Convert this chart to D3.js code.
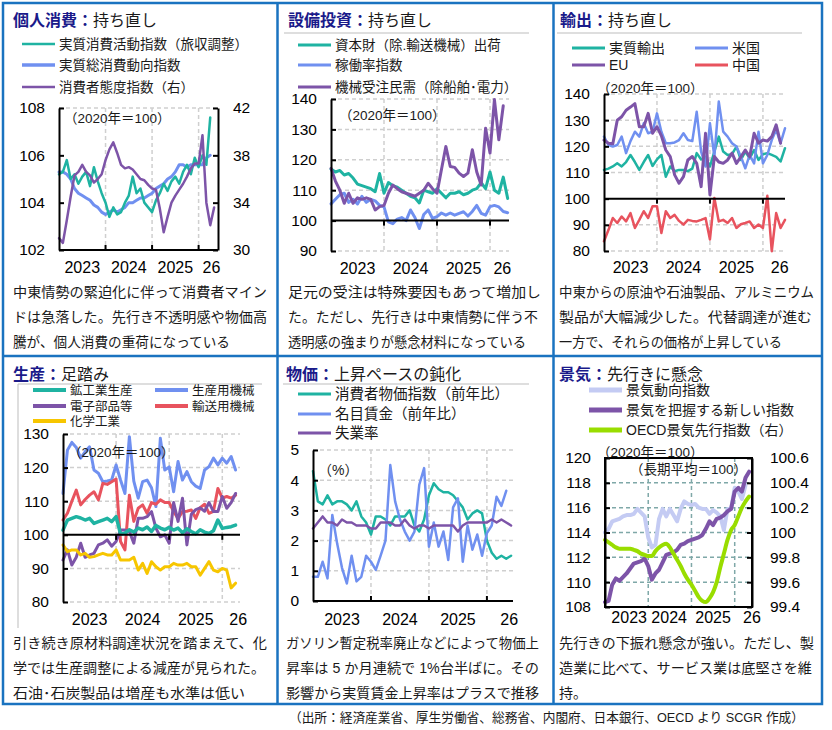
<!DOCTYPE html>
<html><head><meta charset="utf-8">
<script src="https://cdn.jsdelivr.net/npm/d3@7"></script>
<style>
body{margin:0;background:#fff}
svg{display:block}
text{font-family:"Liberation Sans","Noto Sans CJK JP",sans-serif}
</style>
</head><body>
<svg id="chart" width="832" height="730"></svg>
<script>
// ---- data (monthly, Jan 2023 = index 0) ----
const consTeal = [105.2,105.3,105.8,105.0,105.2,104.8,105.1,105.3,104.7,105.5,104.9,104.4,104.0,103.4,103.8,103.5,103.6,104.0,104.3,105.1,104.4,104.6,104.0,103.8,103.6,104.1,104.4,104.8,104.5,104.9,105.1,104.8,105.3,105.6,105.2,105.9,105.5,106.0,105.6,107.6];
const consBlue = [105.3,105.3,105.2,105.0,104.6,104.4,104.3,104.2,104.1,103.9,103.8,103.6,103.5,103.6,103.7,103.6,103.7,103.8,104.0,104.0,104.1,104.2,104.2,104.3,104.4,104.6,104.7,104.8,105.0,105.1,105.3,105.6,105.6,105.5,105.6,105.6,105.6,105.6,105.9,106.0];
const consMind = [31.0,30.6,32.5,34.5,36.3,36.6,37.2,36.6,36.3,35.7,36.0,36.4,37.6,38.5,39.1,38.2,37.2,36.9,37.0,36.8,36.4,36.0,35.9,35.5,35.2,35.1,33.5,31.5,32.8,34.0,34.6,35.1,35.6,36.2,36.9,37.3,37.3,39.7,34.0,32.1,33.6];

const capShip = [117,116,116.5,115,115.5,114,112,111.5,111,110.5,109.5,115.5,109,112.5,111.5,111,110,109,108,107.5,105.8,110,109.5,109,110.5,109,107.5,109,109,109.5,108.5,109,110,110.5,112.5,110.5,116,110,109,114.3,107.3];
const capUtil = [105.5,107,108.5,109,106,107,105.5,108,106,107,106.5,105,104.5,99.6,99,100.5,101,100,103.5,101,97.4,102,103.5,100.7,101.3,102.5,101.8,102.5,101.8,102.4,102.9,101.5,103,105,102.4,101.8,104.6,105,104.5,103,102.6];
const capOrders = [117.2,113,110,105.7,109,105.7,107.5,107,107.5,107,103.5,104.6,105,109,111.7,110.5,109.5,109,108.5,108,109,110,112.3,110.5,109,116.7,124.4,117.8,117.5,115.6,114.5,115.6,123.3,116,111.7,130.4,122.2,139.8,126.6,137.8];

const expTotal = [111,111.5,112.3,113.5,112.3,114,116.7,114,111,114,116.7,112.5,115,116.7,108.4,112.3,110.5,111,111,110.5,111.5,117.4,115,116,112.3,118,123.7,118,116.7,117,119.9,114.8,118,115.4,118.6,114.8,117,117.4,116.7,116,114.2,119.3];
const expUS = [123.7,120.5,119.9,120.5,123.7,117.4,122,125.6,123.7,128.8,125,125.6,132.6,125.6,121.2,121.2,121.5,122.4,125,122.4,122,133.2,118,112.3,128.8,116.1,137.1,125.6,123.7,121.2,119.9,116.1,111.6,116.7,113.5,125.6,113.5,116.7,122.4,126.3,121.2,126.9];
const expEU = [122.4,121.2,121,130,131.3,133.8,135,136.3,127.5,127.5,132.6,125,127.5,124,118.6,116.1,109.1,105.9,108.4,114.8,116.1,113.5,104.6,125,101.4,116.1,114,113.5,114.8,117.4,113.5,116,118.6,116,125,121.2,122.4,122,123.7,128.2,121.2];
const expChina = [83.7,88,92.6,90.7,93.2,91.3,94.5,88.8,91.9,95.2,92.6,97.1,97.1,86.9,95.2,92.6,93.8,91.5,90.1,91.9,91.5,91.3,91.9,92.6,84.4,100.3,91.3,91.9,90.7,92.6,88.8,90.2,90.7,91.3,88.8,90.1,88.8,101.1,79.9,94.5,88.8,91.9];

const prodTotal = [101.4,104.4,104.9,105.4,105,104.4,104.9,103.4,103.9,104.4,104.9,103.9,105.4,100.2,100.5,101.5,100.8,102,101.5,102.3,101,102.8,102,101.5,102.2,101.4,102,100.6,101.8,101,100.3,101.5,100.8,100.4,101.2,104.4,101.9,102.2,102.4,102.9];
const prodMach = [112.3,125.2,127.5,126,122.8,124.7,126.2,119.3,118.3,115.8,116,116.3,120.8,116.3,112.3,129.2,116,110.9,115.8,116.3,114,108.4,128.7,119.3,120.2,112.8,121.8,116.3,118.8,115.8,114.5,113.8,119.3,120.3,122.8,120.8,122.8,121.3,123.3,119.3];
const prodElec = [92.5,95.5,91,93.3,97.5,93.3,94,94.5,97,97.5,98.5,96.6,98,101.4,101.4,101,97.5,104.9,104.9,105.4,106.9,102,99.4,100,97.5,109.6,104,110.9,97,106.1,107.5,108,107,109.6,106.9,106.9,111.4,107.9,109.6,112.3];
const prodTrans = [104.4,106.4,110,113.3,108.9,110.5,111.8,112.8,110.4,115.3,115,115.8,116.6,98,95.5,111.8,104,107.9,108.9,106.4,109.6,109.1,110.4,109.6,109.6,106.9,104.9,106.9,107,107.4,104.9,108.1,109.1,106.4,107,113.8,110.9,111.4,110.9,111.8];
const prodChem = [97,95,95.5,95.5,94,94.5,93.3,93.5,94,94.5,94,94,95.5,92.5,92.5,92.5,93.3,89.5,91.5,88.5,92,90.5,89.5,90.5,90.5,91.5,91,91,91.5,90.5,90.5,88,90,92,89.5,89,90,89.5,84.2,85.6];

const cpi = [4.3,3.3,3.2,3.5,3.2,3.3,3.3,3.2,3.0,3.3,2.8,2.6,2.2,2.8,2.8,2.7,2.5,2.8,2.8,2.8,3.0,2.5,2.3,2.7,3.5,3.9,3.7,3.6,3.6,3.5,3.3,3.1,2.7,2.9,3.0,2.9,2.0,1.6,1.4,1.5,1.4,1.5];
const wages = [0.8,0.8,1.3,0.75,2.85,1.9,1.1,0.58,1.5,0.65,0.8,1.5,1.3,1.03,1.5,2.0,4.5,3.3,2.7,2.3,2.0,2.3,3.85,4.4,1.8,2.6,1.8,2.3,1.36,3.1,3.4,1.3,2.5,1.7,2.2,1.5,2.25,2.5,3.45,3.15,3.65];
const unemp = [2.4,2.6,2.8,2.6,2.6,2.5,2.7,2.6,2.6,2.5,2.5,2.5,2.4,2.4,2.6,2.6,2.6,2.5,2.5,2.7,2.5,2.4,2.5,2.5,2.4,2.5,2.5,2.5,2.5,2.5,2.3,2.5,2.6,2.6,2.6,2.6,2.6,2.7,2.6,2.7,2.6,2.5];

const ciIndex = [114,114.3,114.9,115,115.1,115.3,115.4,115.4,115.5,115.9,115.6,115.3,113.6,112.8,113.0,115.1,115.9,115.3,115.9,115.4,114.9,115.9,116.5,116.3,116.2,116.3,116.0,115.9,115.9,115.5,115.8,115.6,115.3,114.2,115.9,115.9,117.6,117.3,116.7,117.8];
const newIndex = [108.4,108.5,109.8,110.3,110.1,110.4,110.7,111.1,111.5,111.6,111.7,111.9,111.3,110.2,110.7,111.0,111.6,112.2,112.3,112.4,112.6,113.0,113.1,113.3,113.4,113.5,113.6,113.8,114.3,114.9,114.6,115.1,115.2,115.4,115.7,115.9,117.3,117.6,117.3,118.4,118.9];
const oecdCli = [99.94,99.92,99.9,99.88,99.87,99.87,99.87,99.87,99.86,99.85,99.83,99.82,99.81,99.81,99.85,99.88,99.9,99.91,99.88,99.83,99.78,99.73,99.67,99.62,99.58,99.53,99.48,99.45,99.44,99.47,99.52,99.6,99.72,99.83,99.94,100.02,100.06,100.13,100.2,100.25,100.29];

const yearLabels = ["2023", "2024", "2025", "26"];

// ---- colours ----
const C = {
  teal: "#1fb3a2", blue: "#7090f0", purple: "#7d54a8", red: "#e8535e",
  yellow: "#f7c600", lav: "#c4cbf3", green: "#99dd00",
  frame: "#1a73c0", grid: "#cfcfcf", grid6: "#7fa8a8", navy: "#1a1a8a", ink: "#1a1a1a",
};

const svg = d3.select("#chart");

// outer frame and dividers
svg.append("rect").attr("x", 3).attr("y", 3).attr("width", 819).attr("height", 701)
  .attr("fill", "none").attr("stroke", C.frame).attr("stroke-width", 2.5);
[[277.5, 3, 277.5, 704], [553.5, 3, 553.5, 704], [3, 356, 822, 356]].forEach(([a, b, c, d]) =>
  svg.append("line").attr("x1", a).attr("y1", b).attr("x2", c).attr("y2", d)
    .attr("stroke", C.frame).attr("stroke-width", 2.5));

// thin grey rules under some titles
[[284, 33, 529, 33], [557, 33, 802, 33], [283, 384, 529, 384], [18, 384, 262, 384], [18, 384, 18, 628]]
  .forEach(([a, b, c, d]) => svg.append("line").attr("x1", a).attr("y1", b).attr("x2", c).attr("y2", d)
    .attr("stroke", "#bdbdbd").attr("stroke-width", 1));

// titles
const titles = [
  { x: 13, y: 26, bold: "個人消費：", rest: "持ち直し" },
  { x: 288, y: 26, bold: "設備投資：", rest: "持ち直し" },
  { x: 560, y: 26, bold: "輸出：", rest: "持ち直し" },
  { x: 13, y: 380, bold: "生産：", rest: "足踏み" },
  { x: 286, y: 380, bold: "物価：", rest: "上昇ペースの鈍化" },
  { x: 559, y: 380, bold: "景気：", rest: "先行きに懸念" },
];
titles.forEach((t) => {
  const tx = svg.append("text").attr("x", t.x).attr("y", t.y).attr("font-size", 16);
  tx.append("tspan").attr("fill", C.navy).attr("font-weight", 700).text(t.bold);
  tx.append("tspan").attr("fill", C.ink).text(t.rest);
});

// comment text under each chart
const notes = [
  { x: 13, y: 297, w: [254, 254, 217], lines: ["中東情勢の緊迫化に伴って消費者マイン", "ドは急落した。先行き不透明感や物価高", "騰が、個人消費の重荷になっている"] },
  { x: 288, y: 297, w: [253, 250, 238], lines: ["足元の受注は特殊要因もあって増加し", "た。ただし、先行きは中東情勢に伴う不", "透明感の強まりが懸念材料になっている"] },
  { x: 559, y: 297, w: [255, 253, 223], lines: ["中東からの原油や石油製品、アルミニウム", "製品が大幅減少した。代替調達が進む", "一方で、それらの価格が上昇している"] },
  { x: 13, y: 648, w: [254, 252, 232], lines: ["引き続き原材料調達状況を踏まえて、化", "学では生産調整による減産が見られた。", "石油･石炭製品は増産も水準は低い"] },
  { x: 286, y: 648, w: [253, 253, 253], lines: ["ガソリン暫定税率廃止などによって物価上", "昇率は 5 か月連続で 1%台半ばに。その", "影響から実質賃金上昇率はプラスで推移"] },
  { x: 559, y: 648, w: [255, 253, null], lines: ["先行きの下振れ懸念が強い。ただし、製", "造業に比べて、サービス業は底堅さを維", "持。"] },
];
notes.forEach((n) => n.lines.forEach((s, i) => {
  const t = svg.append("text").attr("x", n.x).attr("y", n.y + i * 25)
    .attr("font-size", 14).attr("fill", C.ink).text(s);
  if (n.w[i]) t.attr("textLength", n.w[i]).attr("lengthAdjust", "spacingAndGlyphs");
}));

// footer
svg.append("text").attr("x", 289).attr("y", 722).attr("font-size", 13).attr("fill", C.ink)
  .attr("textLength", 515).attr("lengthAdjust", "spacingAndGlyphs")
  .text("（出所：経済産業省、厚生労働省、総務省、内閣府、日本銀行、OECD より SCGR 作成）");

// legend helper
function legend(items) {
  items.forEach((it) => {
    svg.append("line").attr("x1", it.x).attr("x2", it.x + (it.len || 33))
      .attr("y1", it.y).attr("y2", it.y).attr("stroke", it.color).attr("stroke-width", it.w || 3);
    svg.append("text").attr("x", it.x + (it.len || 33) + 4).attr("y", it.y).attr("dy", "0.36em")
      .attr("font-size", it.fs || 13.5).attr("fill", C.ink).text(it.label);
  });
}

// generic panel
function drawPanel(p) {
  const g = svg.append("g");
  const x = d3.scaleLinear().domain([0, p.xMax]).range([p.x0, p.x1]);
  const y = d3.scaleLinear().domain(p.yDomain).range([p.yBot, p.yTop]);
  const yR = p.yRight ? d3.scaleLinear().domain(p.yRight.domain).range([p.yBot, p.yTop]) : null;
  const gridColor = p.gridColor || C.grid;

  // dashed grid
  p.gridY.forEach((v) => g.append("line").attr("x1", p.x0).attr("x2", p.x1)
    .attr("y1", y(v)).attr("y2", y(v)).attr("stroke", gridColor)
    .attr("stroke-width", 1.5).attr("stroke-dasharray", "4,3"));
  [12, 24, 36].forEach((m) => g.append("line").attr("x1", x(m)).attr("x2", x(m))
    .attr("y1", p.yTop).attr("y2", p.yBot).attr("stroke", gridColor)
    .attr("stroke-width", 1.5).attr("stroke-dasharray", "4,3"));

  // series
  p.series.forEach((s) => {
    const sc = s.right ? yR : y;
    const line = d3.line().x((d, i) => x(i)).y((d) => sc(d));
    if (s.smooth) line.curve(d3.curveMonotoneX);
    g.append("path").datum(s.data).attr("d", line).attr("fill", "none")
      .attr("stroke", s.color).attr("stroke-width", s.w || 2.5)
      .attr("stroke-linejoin", "round").attr("stroke-linecap", "round");
  });

  // reference line (100 or axis baseline)
  if (p.refLine != null) {
    const ry = y(p.refLine);
    g.append("line").attr("x1", p.x0).attr("x2", p.x1).attr("y1", ry).attr("y2", ry)
      .attr("stroke", "#000").attr("stroke-width", 2);
    [12, 24, 36].forEach((m) => g.append("line").attr("x1", x(m)).attr("x2", x(m))
      .attr("y1", ry).attr("y2", ry + (p.refTickDir || 5)).attr("stroke", "#000").attr("stroke-width", 2));
  }
  if (p.box) {
    g.append("rect").attr("x", p.x0).attr("y", p.yTop).attr("width", p.x1 - p.x0)
      .attr("height", p.yBot - p.yTop).attr("fill", "none").attr("stroke", "#000").attr("stroke-width", 2);
  }

  // left axis
  g.append("g").attr("transform", `translate(${p.x0},0)`)
    .call(d3.axisLeft(y).tickValues(p.yTicks).tickSize(-5).tickSizeOuter(0).tickPadding(14)
      .tickFormat(p.fmt || d3.format("d")))
    .call((a) => a.select(".domain").attr("stroke", "#000").attr("stroke-width", 2))
    .call((a) => a.selectAll("line").attr("stroke", "#000").attr("stroke-width", 2))
    .call((a) => a.selectAll("text").attr("fill", "#000").attr("font-size", 15.5)
      .attr("font-family", '"Liberation Sans",sans-serif'));

  if (yR) {
    g.append("g").attr("transform", `translate(${p.x1},0)`)
      .call(d3.axisRight(yR).tickValues(p.yRight.ticks).tickSize(-5).tickSizeOuter(0)
        .tickPadding(p.yRight.pad || 15).tickFormat(p.yRight.fmt))
      .call((a) => a.select(".domain").attr("stroke", "#000").attr("stroke-width", 2))
      .call((a) => a.selectAll("line").attr("stroke", "#000").attr("stroke-width", 2))
      .call((a) => a.selectAll("text").attr("fill", "#000").attr("font-size", 15.5)
        .attr("font-family", '"Liberation Sans",sans-serif'));
  }

  // year labels
  p.yearPos.forEach((m, i) => g.append("text").attr("x", x(m)).attr("y", p.yearY)
    .attr("text-anchor", "middle").attr("font-size", 16).attr("fill", "#000")
    .attr("font-family", '"Liberation Sans",sans-serif').text(yearLabels[i]));

  // notes inside plot
  (p.labels || []).forEach((l) => g.append("text").attr("x", l.x).attr("y", l.y)
    .attr("font-size", l.fs || 13.5).attr("fill", C.ink).text(l.text));
}

// ---- 個人消費 ----
legend([
  { x: 22, y: 44, color: C.teal, w: 2.5, label: "実質消費活動指数（旅収調整）" },
  { x: 22, y: 65, color: C.blue, w: 3.5, label: "実質総消費動向指数" },
  { x: 22, y: 87, color: C.purple, w: 2.5, label: "消費者態度指数（右）" },
]);
drawPanel({
  x0: 59, x1: 218, xMax: 41, yTop: 108, yBot: 250,
  yDomain: [102, 108], yTicks: [102, 104, 106, 108], gridY: [108],
  yRight: { domain: [30, 42], ticks: [30, 34, 38, 42], fmt: d3.format("d") },
  refLine: 102, refTickDir: -5,
  series: [
    { data: consBlue, color: C.blue, w: 3 },
    { data: consTeal, color: C.teal, w: 2.5 },
    { data: consMind, color: C.purple, w: 2.5, right: true },
  ],
  yearPos: [6, 18, 30, 39.3], yearY: 273,
  labels: [{ x: 64, y: 123, text: "（2020年＝100）" }],
});

// ---- 設備投資 ----
legend([
  { x: 298, y: 45, color: C.teal, w: 3, label: "資本財（除.輸送機械）出荷" },
  { x: 298, y: 65, color: C.blue, w: 3, label: "稼働率指数" },
  { x: 298, y: 87, color: C.purple, w: 3, label: "機械受注民需（除船舶･電力）" },
]);
drawPanel({
  x0: 331, x1: 509, xMax: 40.3, yTop: 99, yBot: 251,
  yDomain: [90, 140], yTicks: [90, 100, 110, 120, 130, 140], gridY: [90, 110, 120, 130, 140],
  refLine: 100,
  series: [
    { data: capUtil, color: C.blue, w: 3 },
    { data: capShip, color: C.teal, w: 3 },
    { data: capOrders, color: C.purple, w: 3 },
  ],
  yearPos: [6, 18, 30, 38.8], yearY: 274,
  labels: [{ x: 339, y: 120, text: "（2020年＝100）" }],
});

// ---- 輸出 ----
legend([
  { x: 572, y: 48, color: C.teal, w: 3, label: "実質輸出", fs: 14 },
  { x: 695, y: 48, color: C.blue, w: 3, label: "米国", fs: 14 },
  { x: 572, y: 65, color: C.purple, w: 3, label: "EU", fs: 14 },
  { x: 695, y: 65, color: C.red, w: 3, label: "中国", fs: 14 },
]);
drawPanel({
  x0: 604, x1: 785, xMax: 41, yTop: 94, yBot: 251,
  yDomain: [80, 140], yTicks: [80, 90, 100, 110, 120, 130, 140], gridY: [80, 90, 110, 120, 130, 140],
  refLine: 100,
  series: [
    { data: expTotal, color: C.teal, w: 2.5 },
    { data: expUS, color: C.blue, w: 2.5 },
    { data: expEU, color: C.purple, w: 3 },
    { data: expChina, color: C.red, w: 2.5 },
  ],
  yearPos: [6, 18, 30, 39.8], yearY: 273,
  labels: [{ x: 597, y: 93, text: "（2020年＝100）" }],
});

// ---- 生産 ----
legend([
  { x: 33, y: 390, color: C.teal, w: 4, label: "鉱工業生産", fs: 12.5 },
  { x: 155, y: 390, color: C.blue, w: 4, label: "生産用機械", fs: 12.5 },
  { x: 33, y: 406, color: C.purple, w: 4, label: "電子部品等", fs: 12.5 },
  { x: 155, y: 406, color: C.red, w: 4, label: "輸送用機械", fs: 12.5 },
  { x: 33, y: 421, color: C.yellow, w: 4, label: "化学工業", fs: 12.5 },
]);
drawPanel({
  x0: 63, x1: 240, xMax: 40, yTop: 434, yBot: 602,
  yDomain: [80, 130], yTicks: [80, 90, 100, 110, 120, 130], gridY: [80, 90, 110, 120, 130],
  refLine: 100,
  series: [
    { data: prodMach, color: C.blue, w: 3 },
    { data: prodTrans, color: C.red, w: 3 },
    { data: prodElec, color: C.purple, w: 3 },
    { data: prodTotal, color: C.teal, w: 3.5 },
    { data: prodChem, color: C.yellow, w: 3 },
  ],
  yearPos: [6, 18, 30, 39.6], yearY: 625,
  labels: [{ x: 68, y: 457, text: "（2020年＝100）" }],
});

// ---- 物価 ----
legend([
  { x: 298, y: 394, color: C.teal, w: 3, label: "消費者物価指数（前年比）", fs: 14.5 },
  { x: 298, y: 414, color: C.blue, w: 3, label: "名目賃金（前年比）", fs: 14.5 },
  { x: 298, y: 433, color: C.purple, w: 3, label: "失業率", fs: 14.5 },
]);
drawPanel({
  x0: 313, x1: 513, xMax: 41.4, yTop: 450, yBot: 601,
  yDomain: [0, 5], yTicks: [0, 1, 2, 3, 4, 5], gridY: [1, 2, 3, 4, 5],
  refLine: 0, refTickDir: -5,
  series: [
    { data: cpi, color: C.teal, w: 2.5 },
    { data: wages, color: C.blue, w: 2.5 },
    { data: unemp, color: C.purple, w: 2.5 },
  ],
  yearPos: [6, 18, 30, 40.6], yearY: 625,
  labels: [{ x: 318, y: 475, text: "（%）", fs: 14 }],
});

// ---- 景気 ----
legend([
  { x: 589, y: 390, color: C.lav, w: 5, label: "景気動向指数", fs: 14 },
  { x: 589, y: 410, color: C.purple, w: 5, label: "景気を把握する新しい指数", fs: 14 },
  { x: 589, y: 430, color: C.green, w: 5, label: "OECD景気先行指数（右）", fs: 14 },
]);
drawPanel({
  x0: 605, x1: 752, xMax: 40.8, yTop: 458, yBot: 607,
  yDomain: [108, 120], yTicks: [108, 110, 112, 114, 116, 118, 120],
  gridY: [110, 112, 114, 116, 118], gridColor: C.grid6, box: true,
  yRight: { domain: [99.4, 100.6], ticks: [99.4, 99.6, 99.8, 100, 100.2, 100.4, 100.6],
    fmt: (v) => String(+v.toFixed(1)), pad: 18 },
  series: [
    { data: ciIndex, color: C.lav, w: 4 },
    { data: newIndex, color: C.purple, w: 4 },
    { data: oecdCli, color: C.green, w: 4, right: true, smooth: true },
  ],
  yearPos: [6.7, 17.8, 30, 40.8], yearY: 623,
  labels: [{ x: 597, y: 457, text: "（2020年＝100）" }, { x: 630, y: 474, text: "（長期平均＝100）" }],
});
</script>
</body></html>
